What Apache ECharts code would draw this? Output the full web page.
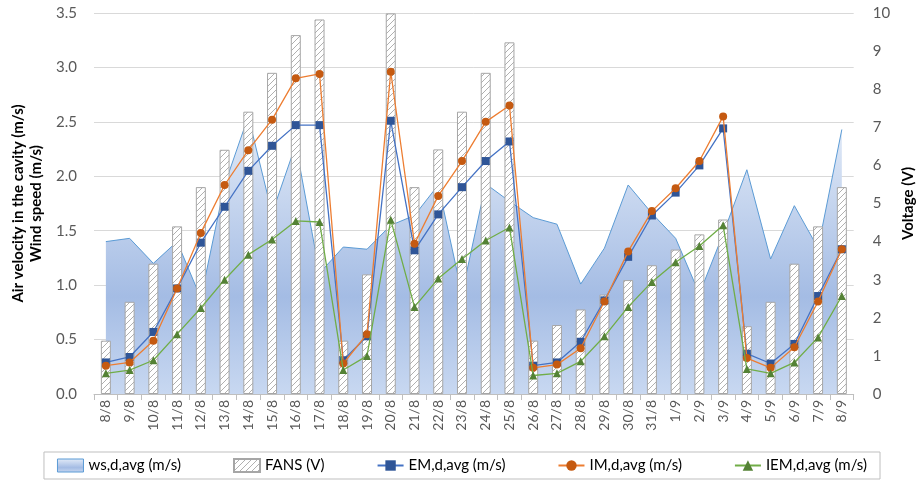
<!DOCTYPE html>
<html>
<head>
<meta charset="utf-8">
<script src="https://cdn.jsdelivr.net/npm/echarts@6/dist/echarts.min.js"></script>
<style>html,body{margin:0;padding:0;background:#fff}#c{width:924px;height:482px}</style>
</head>
<body>
<div id="c"></div>
<script>
var categories = ['8/8','9/8','10/8','11/8','12/8','13/8','14/8','15/8','16/8','17/8','18/8','19/8','20/8','21/8','22/8','23/8','24/8','25/8','26/8','27/8','28/8','29/8','30/8','31/8','1/9','2/9','3/9','4/9','5/9','6/9','7/9','8/9'];
var wsAvg = [1.40,1.43,1.20,1.40,0.88,1.92,2.55,1.66,2.29,1.11,1.35,1.33,1.55,1.64,1.92,0.92,1.93,1.77,1.62,1.56,1.01,1.34,1.92,1.66,1.43,0.92,1.47,2.06,1.24,1.73,1.34,2.43];
var fans = [1.40,2.42,3.42,4.40,5.43,6.41,7.41,8.43,9.42,9.83,1.40,3.14,9.99,5.43,6.42,7.41,8.43,9.23,1.40,1.81,2.22,2.61,2.99,3.38,3.79,4.19,4.58,1.78,2.42,3.42,4.40,5.43];
var emAvg = [0.29,0.34,0.57,0.97,1.39,1.72,2.05,2.28,2.47,2.47,0.31,0.53,2.51,1.32,1.65,1.90,2.14,2.32,0.26,0.29,0.48,0.86,1.26,1.64,1.85,2.10,2.44,0.37,0.28,0.46,0.90,1.33];
var imAvg = [0.26,0.29,0.49,0.97,1.48,1.92,2.24,2.52,2.90,2.94,0.28,0.55,2.96,1.38,1.82,2.14,2.50,2.65,0.24,0.27,0.42,0.85,1.31,1.68,1.89,2.14,2.55,0.33,0.24,0.43,0.85,1.33];
var iemAvg = [0.19,0.22,0.31,0.55,0.79,1.05,1.28,1.42,1.59,1.58,0.22,0.35,1.60,0.80,1.06,1.24,1.41,1.53,0.17,0.19,0.30,0.53,0.80,1.03,1.21,1.36,1.55,0.23,0.19,0.29,0.52,0.90];
var leftTicks = [0, 3.5, 0.5];
var rightTicks = [0, 10, 1];

var FONT = "Lato, 'Open Sans', sans-serif";

// hatch pattern
var pc = document.createElement('canvas');
pc.width = 6; pc.height = 6;
var g = pc.getContext('2d');
g.fillStyle = '#ffffff'; g.fillRect(0,0,6,6);
g.strokeStyle = '#b0b0b0'; g.lineWidth = 1;
g.beginPath();
g.moveTo(-1,7); g.lineTo(7,-1);
g.moveTo(-1,1); g.lineTo(1,-1);
g.moveTo(5,7); g.lineTo(7,5);
g.stroke();

var areaGrad = {type:'linear',x:0,y:0,x2:0,y2:1,colorStops:[{offset:0,color:'#e4ecf8'},{offset:0.65,color:'#a4bce4'},{offset:1,color:'#c8d8f1'}]};

var chart = echarts.init(document.getElementById('c'), null, {renderer:'canvas'});
chart.setOption({
  animation: false,
  backgroundColor: '#ffffff',
  grid: {left: 94, right: 63, top: 13, bottom: 88, containLabel: false},
  legend: {
    left: 'center', top: 452,
    padding: [6, 13], itemGap: 52, itemWidth: 26, itemHeight: 13,
    borderColor: '#bfbfbf', borderWidth: 1,
    textStyle: {fontFamily: FONT, fontSize: 15, color: '#000'},
    data: [
      {name: 'ws,d,avg (m/s)', icon: 'rect', itemStyle: {color: areaGrad, borderColor: '#5b9bd5', borderWidth: 1}},
      {name: 'FANS (V)', icon: 'rect'},
      'EM,d,avg (m/s)','IM,d,avg (m/s)','IEM,d,avg (m/s)']
  },
  xAxis: {
    type: 'category', data: categories, boundaryGap: true,
    axisLine: {lineStyle: {color: '#bfbfbf'}},
    axisTick: {show: true, length: 6, lineStyle: {color: '#bfbfbf'}},
    axisLabel: {interval: 0, rotate: 90, fontFamily: FONT, fontSize: 14, color: '#595959', margin: 6}
  },
  yAxis: [{
    type: 'value', min: leftTicks[0], max: leftTicks[1], interval: leftTicks[2],
    name: 'Air velocity in the cavity (m/s)\nWind speed (m/s)',
    nameLocation: 'middle', nameGap: 48, nameRotate: 90,
    nameTextStyle: {fontFamily: FONT, fontSize: 15, fontWeight: 'bold', color: '#000', lineHeight: 18},
    axisLine: {show: false}, axisTick: {show: false},
    axisLabel: {formatter: function(v){return v.toFixed(1);}, fontFamily: FONT, fontSize: 15, color: '#595959', margin: 17},
    splitLine: {lineStyle: {color: '#d9d9d9', width: 1}}
  },{
    type: 'value', min: rightTicks[0], max: rightTicks[1], interval: rightTicks[2],
    name: 'Voltage (V)', nameLocation: 'middle', nameGap: 44, nameRotate: 90,
    nameTextStyle: {fontFamily: FONT, fontSize: 15, fontWeight: 'bold', color: '#000'},
    axisLine: {show: false}, axisTick: {show: false},
    axisLabel: {fontFamily: FONT, fontSize: 15, color: '#595959', margin: 19},
    splitLine: {show: false}
  }],
  series: [{
    name: 'ws,d,avg (m/s)', type: 'line', yAxisIndex: 0, data: wsAvg,
    symbol: 'none', z: 1,
    lineStyle: {color: '#5b9bd5', width: 1},
    itemStyle: {color: areaGrad, borderColor:'#5b9bd5'},
    areaStyle: {color: areaGrad, opacity: 1}
  },{
    name: 'FANS (V)', type: 'bar', yAxisIndex: 1, data: fans, barWidth: 10, z: 2,
    itemStyle: {color: {image: pc, repeat: 'repeat'}, borderColor: '#a6a6a6', borderWidth: 1}
  },{
    name: 'EM,d,avg (m/s)', type: 'line', yAxisIndex: 0, data: emAvg, z: 3,
    symbol: 'rect', symbolSize: 8,
    lineStyle: {color: '#4472c4', width: 1.3},
    itemStyle: {color: '#2f5597', borderWidth: 0}
  },{
    name: 'IM,d,avg (m/s)', type: 'line', yAxisIndex: 0, data: imAvg, z: 4,
    symbol: 'circle', symbolSize: 8,
    lineStyle: {color: '#ed7d31', width: 1.3},
    itemStyle: {color: '#c55a11', borderWidth: 0}
  },{
    name: 'IEM,d,avg (m/s)', type: 'line', yAxisIndex: 0, data: iemAvg, z: 5,
    symbol: 'triangle', symbolSize: 8,
    lineStyle: {color: '#70ad47', width: 1.3},
    itemStyle: {color: '#548235', borderWidth: 0}
  }]
});
</script>
</body>
</html>
